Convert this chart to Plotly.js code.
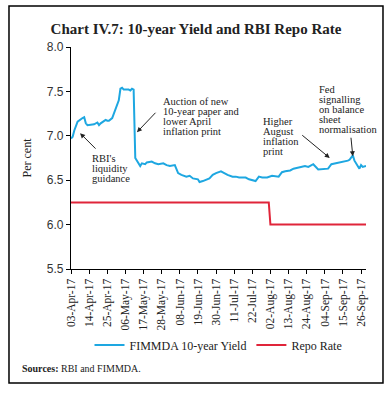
<!DOCTYPE html>
<html><head><meta charset="utf-8">
<script src="https://cdn.plot.ly/plotly-3.0.1.min.js"></script>
<style>html,body{margin:0;padding:0;background:#fff;}#chart{width:392px;height:393px;}</style>
</head><body><div id="chart"></div>
<script>
const yieldDates = ['2017-04-03','2017-04-04','2017-04-05','2017-04-07','2017-04-10','2017-04-11','2017-04-12','2017-04-13','2017-04-17','2017-04-18','2017-04-19','2017-04-20','2017-04-21','2017-04-24','2017-04-25','2017-04-26','2017-04-27','2017-04-28','2017-05-02','2017-05-03','2017-05-04','2017-05-05','2017-05-08','2017-05-09','2017-05-10','2017-05-11','2017-05-12','2017-05-15','2017-05-16','2017-05-18','2017-05-19','2017-05-22','2017-05-24','2017-05-26','2017-05-29','2017-05-31','2017-06-02','2017-06-05','2017-06-07','2017-06-09','2017-06-12','2017-06-14','2017-06-16','2017-06-19','2017-06-20','2017-06-22','2017-06-26','2017-06-28','2017-06-30','2017-07-03','2017-07-05','2017-07-07','2017-07-10','2017-07-12','2017-07-14','2017-07-18','2017-07-20','2017-07-24','2017-07-26','2017-07-28','2017-07-31','2017-08-03','2017-08-07','2017-08-09','2017-08-11','2017-08-14','2017-08-16','2017-08-18','2017-08-21','2017-08-23','2017-08-25','2017-08-28','2017-08-31','2017-09-04','2017-09-06','2017-09-08','2017-09-11','2017-09-13','2017-09-15','2017-09-18','2017-09-19','2017-09-21','2017-09-22','2017-09-25','2017-09-26','2017-09-27','2017-09-29'];
const yieldValues = [6.97,6.99,7.06,7.16,7.20,7.21,7.14,7.12,7.13,7.14,7.15,7.12,7.14,7.18,7.17,7.17,7.19,7.20,7.40,7.53,7.54,7.52,7.52,7.51,7.53,7.52,6.75,6.66,6.69,6.68,6.70,6.71,6.69,6.68,6.69,6.67,6.66,6.67,6.58,6.56,6.54,6.55,6.52,6.51,6.48,6.49,6.52,6.56,6.58,6.60,6.58,6.56,6.54,6.54,6.53,6.53,6.51,6.49,6.54,6.53,6.53,6.55,6.54,6.59,6.60,6.61,6.63,6.64,6.65,6.66,6.65,6.68,6.62,6.63,6.63,6.68,6.69,6.70,6.71,6.72,6.73,6.78,6.72,6.63,6.67,6.65,6.66];
const repoDates = ['2017-04-03','2017-08-01','2017-08-02','2017-09-29'];
const repoValues = [6.25,6.25,6.00,6.00];
const yTicks = [5.5,6.0,6.5,7.0,7.5,8.0];

const noteRBI = ["RBI's", 'liquidity', 'guidance'];
const noteAuction = ['Auction of new', '10-year paper and', 'lower April', 'inflation print'];
const noteAugust = ['Higher', 'August', 'inflation', 'print'];
const noteFed = ['Fed', 'signalling', 'on balance', 'sheet', 'normalisation'];

const serif = 'Liberation Serif, Times New Roman, serif';
const traces = [
  {x: yieldDates, y: yieldValues, type:'scatter', mode:'lines', name:'FIMMDA 10-year Yield',
   line:{color:'#1ea7e1', width:2}},
  {x: repoDates, y: repoValues, type:'scatter', mode:'lines', name:'Repo Rate',
   line:{color:'#e0253a', width:2}}
];
const annFont = {family: serif, size: 10.5, color:'#222'};
const annotations = [
  {xref:'paper', yref:'paper', x:-0.173, y:-0.446, xanchor:'left', yanchor:'middle', showarrow:false,
   text:'<b>Sources:</b> RBI and FIMMDA.', font:{family:serif, size:10, color:'#222'}},
  {xref:'x', yref:'y', x:'2017-04-08 12:00', y:7.03, ax:17, ay:17, showarrow:true, arrowhead:2, arrowsize:1, arrowwidth:1, arrowcolor:'#222', text:''},
  {xref:'x', yref:'y', x:'2017-05-13', y:7.04, ax:20, ay:-21, showarrow:true, arrowhead:2, arrowsize:1, arrowwidth:1, arrowcolor:'#222', text:''},
  {xref:'x', yref:'y', x:'2017-09-07', y:6.75, ax:-29, ay:-24, showarrow:true, arrowhead:2, arrowsize:1, arrowwidth:1, arrowcolor:'#222', text:''},
  {xref:'x', yref:'y', x:'2017-09-21', y:6.77, ax:-2, ay:-20, showarrow:true, arrowhead:2, arrowsize:1, arrowwidth:1, arrowcolor:'#222', text:''}
];
function addNote(lines, xDate, yTop) {
  lines.forEach((t, i) => annotations.push({xref:'x', yref:'y', x:xDate, y:yTop, yshift:-10*i,
    xanchor:'left', yanchor:'top', showarrow:false, text:t, font:annFont, borderpad:0}));
}
addNote(noteRBI, '2017-04-15', 6.82);
addNote(noteAuction, '2017-05-28', 7.46);
addNote(noteAugust, '2017-07-28', 7.23);
addNote(noteFed, '2017-08-31', 7.60);

const layout = {
  width:392, height:393,
  margin:{l:71, r:26, t:47, b:124},
  paper_bgcolor:'#fff', plot_bgcolor:'#fff',
  showlegend:true,
  title:{text:'<b>Chart IV.7: 10-year Yield and RBI Repo Rate</b>', font:{family:serif, size:15, color:'#222'},
         x:0.5, xanchor:'center', y:0.926, yanchor:'middle'},
  xaxis:{type:'date', range:['2017-04-03','2017-09-29'], tick0:'2017-04-03', dtick:11*86400000,
         tickformat:'%d-%b-%y', tickangle:-90, ticks:'outside', ticklen:4, tickcolor:'#000',
         showline:true, linecolor:'#000', linewidth:1.2, showgrid:false, zeroline:false,
         tickfont:{family:serif, size:11.5, color:'#222'}},
  yaxis:{range:[5.5,8.0], tickvals:yTicks, tickformat:'.1f', ticks:'outside', ticklen:4, tickcolor:'#000',
         showline:true, linecolor:'#000', linewidth:1.2, showgrid:false, zeroline:false,
         tickfont:{family:'Liberation Sans, Arial, sans-serif', size:12, color:'#333'},
         title:{text:'Per cent', font:{family:serif, size:12, color:'#222'}, standoff:12}},
  legend:{orientation:'h', x:0.5, xanchor:'center', y:-0.342, yanchor:'middle',
          font:{family:serif, size:12, color:'#222'}, itemwidth:30, tracegroupgap:0},
  shapes:[{type:'rect', xref:'paper', yref:'paper', x0:-0.2102, x1:1.0576, y0:-0.5135, y1:1.1847,
           line:{color:'#000', width:1.5}, fillcolor:'rgba(0,0,0,0)'}],
  annotations: annotations
};
Plotly.newPlot('chart', traces, layout, {displayModeBar:false, staticPlot:true});
</script></body></html>
